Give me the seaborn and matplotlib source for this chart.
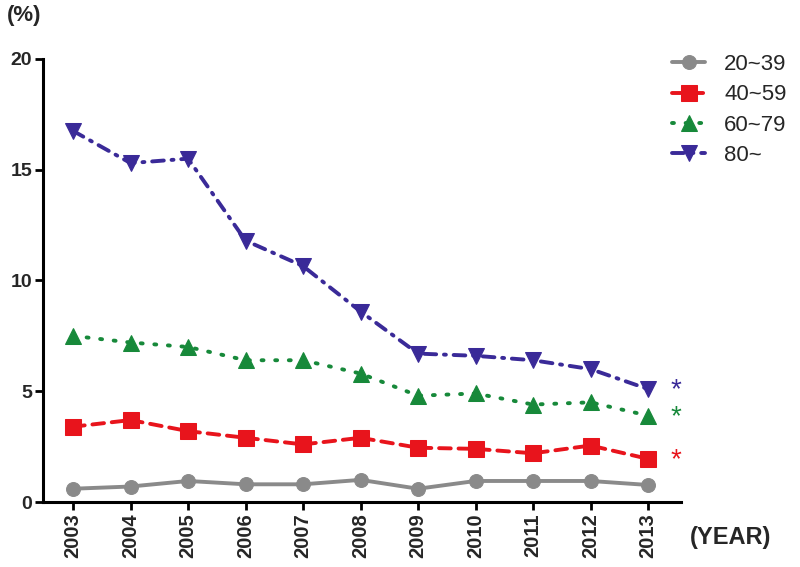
import matplotlib
matplotlib.use("Agg")
import matplotlib.pyplot as plt
import seaborn as sns
import pandas as pd

years = [2003, 2004, 2005, 2006, 2007, 2008, 2009, 2010, 2011, 2012, 2013]
g20_39 = [0.6, 0.7, 0.95, 0.8, 0.8, 1.0, 0.6, 0.95, 0.95, 0.95, 0.77]
g40_59 = [3.4, 3.7, 3.2, 2.9, 2.6, 2.9, 2.45, 2.4, 2.2, 2.55, 1.95]
g60_79 = [7.5, 7.2, 7.0, 6.4, 6.4, 5.8, 4.8, 4.9, 4.4, 4.5, 3.9]
g80 = [16.75, 15.3, 15.5, 11.8, 10.65, 8.6, 6.7, 6.6, 6.4, 6.0, 5.1]
labels = ["20~39", "40~59", "60~79", "80~"]
yticks = [0, 5, 10, 15, 20]

series = [g20_39, g40_59, g60_79, g80]
colors = ["#8a8a8a", "#e8141c", "#17893a", "#3a2a98"]
markers = ["o", "s", "^", "v"]
msizes = [10, 11.5, 12, 12]
styles = ["-", (0, (3, 2)), (0, (0.5, 3)), (0, (3, 2, 0.5, 2))]

sns.set_theme(style="white")
plt.rcParams["font.family"] = ["Liberation Sans", "DejaVu Sans"]

fig = plt.figure(figsize=(8, 5.67), dpi=100)
ax = fig.add_axes([0.054, 0.1146, 0.797, 0.7814])

for vals, lab, c, m, ms, ls in zip(series, labels, colors, markers, msizes, styles):
    df = pd.DataFrame({"year": years, "val": vals})
    sns.lineplot(data=df, x="year", y="val", ax=ax, color=c, marker=m,
                 markersize=ms, markeredgecolor=c, linewidth=2.8,
                 linestyle=ls, label=lab, dash_capstyle="round")

# significance asterisks
for vals, c in zip([g80, g60_79, g40_59], [colors[3], colors[2], colors[1]]):
    ax.text(years[-1] + 0.48, vals[-1] - 0.05, "*", color=c, fontsize=20,
            ha="center", va="center")

ax.set_xlim(2002.48, 2013.57)
ax.set_ylim(0, 20)
ax.set_xticks(years)
ax.set_xticklabels([str(y) for y in years], rotation=90, fontweight="bold", fontsize=14.5)
ax.set_yticks(yticks)
ax.set_yticklabels([str(v) for v in yticks], fontweight="bold", fontsize=14)
ax.set_xlabel("")
ax.set_ylabel("")
for s in ["top", "right"]:
    ax.spines[s].set_visible(False)
for s in ["left", "bottom"]:
    ax.spines[s].set_color("black")
    ax.spines[s].set_linewidth(2.2)
ax.tick_params(axis="both", which="both", direction="out", length=6, width=2,
               color="black", left=True, bottom=True, pad=2)

ax.legend(loc="upper left", bbox_to_anchor=(672 / 800, 1 - 54 / 567),
          bbox_transform=fig.transFigure, frameon=False,
          fontsize=16, handlelength=1.5, handletextpad=0.85, labelspacing=0.42,
          borderaxespad=0, borderpad=0)

fig.text(0.008, 0.972, "(%)", fontsize=16, fontweight="bold", ha="left", va="center")
fig.text(0.862, 0.052, "(YEAR)", fontsize=17, fontweight="bold", ha="left", va="center")

fig.savefig("out.png", dpi=100)
